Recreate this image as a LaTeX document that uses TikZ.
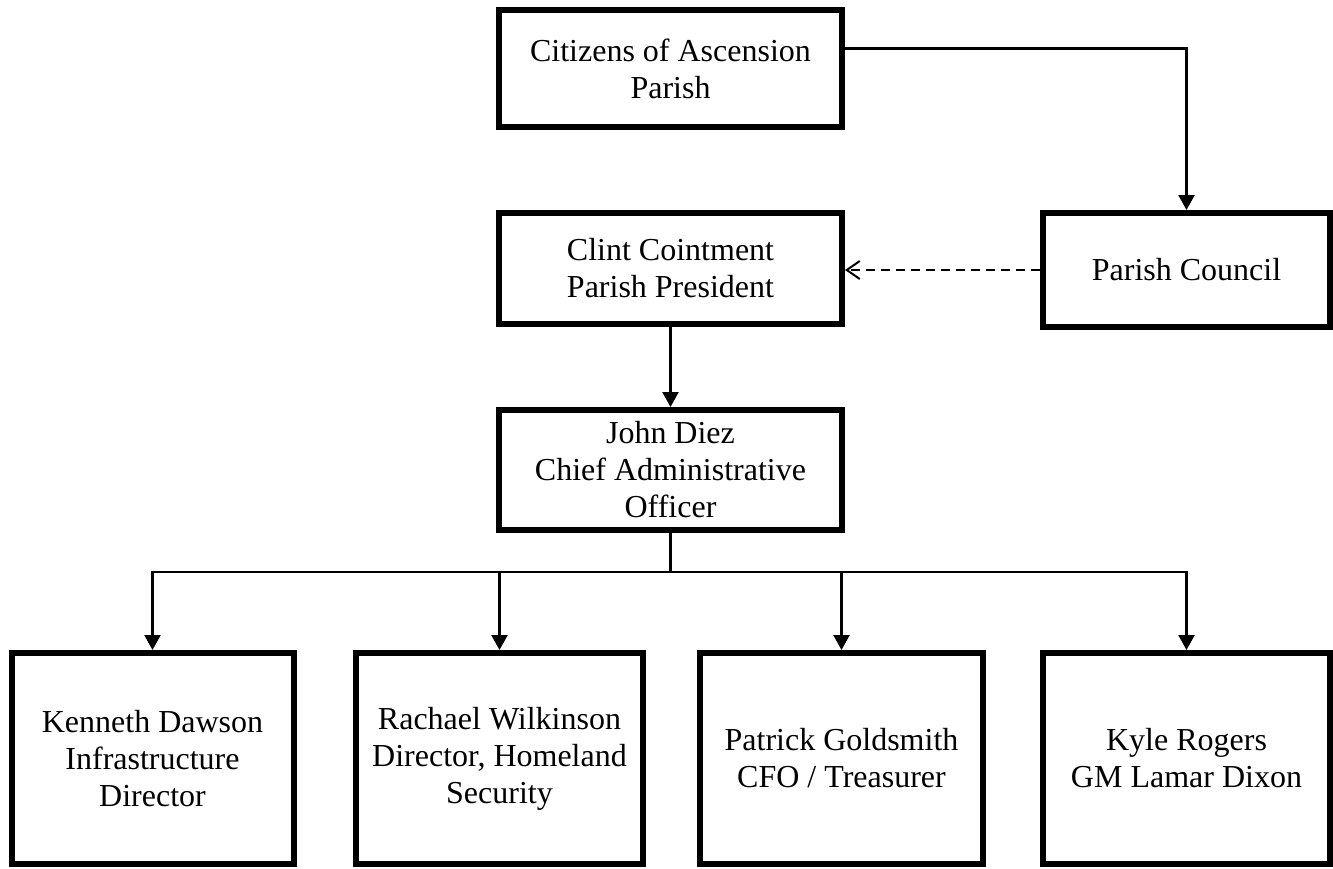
\documentclass[tikz,border=0pt]{standalone}
\usepackage{fontspec}
\setmainfont{Liberation Serif}
\usetikzlibrary{arrows.meta}

\begin{document}
\begin{tikzpicture}[x=0.5pt, y=-0.5pt,
		orgbox/.style={rectangle, draw, line width=3pt, align=center, inner sep=2pt, font=\fontsize{16}{18.5}\selectfont},
		link/.style={draw, line width=1.2pt, -{Triangle[width=8pt,length=7.5pt]}},
		dashlink/.style={draw, line width=1pt, dash pattern=on 4.5pt off 3pt, -{Straight Barb[length=6.5pt,width=9pt]}}]
		\useasboundingbox (0,0) rectangle (1333,868);
		% top levels
		\node (citizens) [orgbox, minimum width=171.5pt, minimum height=58.5pt] at (670.5,68.5) {Citizens of Ascension\\Parish};
		\node (president) [orgbox, minimum width=171.5pt, minimum height=55.5pt] at (670.5,268.5) {Clint Cointment\\Parish President};
		\node (council) [orgbox, minimum width=143.5pt, minimum height=57pt] at (1186.5,270) {Parish Council};
		\node (cao) [orgbox, minimum width=171.5pt, minimum height=60pt] at (670.5,470) {John Diez\\Chief Administrative\\Officer};
		% directors
		\node (dawson) [orgbox, minimum width=141pt, minimum height=105.5pt] at (152.5,758.5) {Kenneth Dawson\\Infrastructure\\Director};
		\node (wilkinson) [orgbox, minimum width=143.5pt, minimum height=105.5pt] at (499.5,758.5) {Rachael Wilkinson\\Director, Homeland\\Security};
		\node (goldsmith) [orgbox, minimum width=141.5pt, minimum height=105.5pt] at (841.5,758.5) {Patrick Goldsmith\\CFO / Treasurer};
		\node (rogers) [orgbox, minimum width=143.5pt, minimum height=105.5pt] at (1186.5,758.5) {Kyle Rogers\\GM Lamar Dixon};

		\path[link] ([yshift=10pt]citizens.east) -| (council.north);
		\path[dashlink] (council.west) -- (council.west -| president.east);
		\path[link] (president) -- (cao);

		\coordinate (bus) at (670.5,572);
		\path[draw, line width=1.2pt] (cao.south) -- (bus);
		\path[link] (bus) -| (dawson.north);
		\path[link] (bus) -| (wilkinson.north);
		\path[link] (bus) -| (goldsmith.north);
		\path[link] (bus) -| (rogers.north);
	\end{tikzpicture}
\end{document}
